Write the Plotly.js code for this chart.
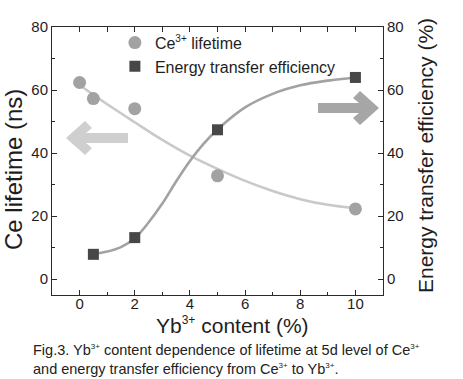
<!DOCTYPE html>
<html>
<head>
<meta charset="utf-8">
<script src="https://cdn.plot.ly/plotly-3.0.1.min.js"></script>
<style>html,body{margin:0;padding:0;background:#fff;}#chart{width:463px;height:379px;}</style>
</head>
<body>
<div id="chart"></div>
<script>
// ---- data ----
const ceX = [0, 0.5, 2, 5, 10];
const ceLifetime = [62.4, 57.3, 54.1, 32.8, 22.3];
const etX = [0.5, 2, 5, 10];
const etEfficiency = [7.9, 13.2, 47.4, 64.0];
// fitted curves
const ceFitX = [0, 0.5, 1, 2, 3, 4, 5, 6, 7, 8, 9, 10];
const ceFitY = [61.6, 58.5, 55.5, 49.8, 44.2, 39.2, 35.0, 31.2, 28.0, 25.4, 23.6, 22.5];
const etFitX = [0.5, 1, 1.5, 2, 2.5, 3, 3.5, 4, 4.5, 5, 6, 7, 8, 9, 10];
const etFitY = [8.0, 8.8, 10.2, 13.0, 18.0, 24.0, 31.0, 37.5, 43.0, 47.5, 54.5, 58.8, 61.5, 63.0, 64.0];
const xTickVals = [0, 2, 4, 6, 8, 10];
const yTickVals = [0, 20, 40, 60, 80];

// ---- geometry (styling) ----
const W = 463, H = 379;
const M = {l: 52, r: 80, t: 27, b: 84};
const XR = [-1, 11], YR = [-5, 80];
const pw = W - M.l - M.r, ph = H - M.t - M.b;
function px2x(px){ return XR[0] + (px - M.l) / pw * (XR[1] - XR[0]); }
function py2y(py){ return YR[1] - (py - M.t) / ph * (YR[1] - YR[0]); }
function poly(pts){
  return 'M ' + pts.map(p => px2x(p[0]).toFixed(4) + ',' + py2y(p[1]).toFixed(4)).join(' L ') + ' Z';
}
const leftArrow = [[66,138],[85,121],[92,128],[86,133],[128,133],[128,143],[86,143],[92,148],[85,155]];
const rightArrow = [[379,108],[360,91],[353,98],[359,103],[318,103],[318,113],[359,113],[353,118],[360,125]];

const FONT = 'Liberation Sans, Arial, sans-serif';
const TXT = '#1e1e1e';
function sup(t, s){ return '<sup><span style="font-size:' + s + 'px">' + t + '</span></sup>'; }

const traces = [
  {x: ceFitX, y: ceFitY, mode: 'lines', line: {color: '#c9c9c9', width: 2.6, shape: 'spline'}, showlegend: false, hoverinfo: 'skip'},
  {x: etFitX, y: etFitY, mode: 'lines', yaxis: 'y2', line: {color: '#a2a2a2', width: 2.6, shape: 'spline'}, showlegend: false, hoverinfo: 'skip'},
  {x: ceX, y: ceLifetime, mode: 'markers', name: 'Ce' + sup('3+', 10) + ' lifetime',
   marker: {symbol: 'circle', size: 13, color: '#a2a2a2'}},
  {x: etX, y: etEfficiency, mode: 'markers', yaxis: 'y2', name: 'Energy transfer efficiency',
   marker: {symbol: 'square', size: 11, color: '#474747'}},
  {x: [], y: [], xaxis: 'x2', showlegend: false, hoverinfo: 'skip'}
];

const axisCommon = {
  showgrid: false, zeroline: false, showline: true, linecolor: '#2a2a2a', linewidth: 1,
  ticks: 'inside', ticklen: 5, tickcolor: '#2a2a2a', tickwidth: 1,
  tickfont: {family: FONT, size: 15, color: TXT}
};

const layout = {
  width: W, height: H,
  margin: M,
  paper_bgcolor: '#fff', plot_bgcolor: '#fff',
  font: {family: FONT, color: TXT},
  showlegend: true,
  legend: {x: 0.19, y: 1.005, xanchor: 'left', yanchor: 'top', bgcolor: 'rgba(0,0,0,0)',
           font: {family: FONT, size: 16, color: TXT}, tracegroupgap: 0},
  xaxis: Object.assign({}, axisCommon, {range: XR, tickvals: xTickVals, ticktext: xTickVals.map(String),
          ticklabelstandoff: -5,
          minor: {dtick: 1, tick0: 0, ticks: 'inside', ticklen: 3, tickcolor: '#2a2a2a'}}),
  xaxis2: Object.assign({}, axisCommon, {range: XR, overlaying: 'x', side: 'top', anchor: 'y', dtick: 1, tick0: 0,
          showticklabels: false}),
  yaxis: Object.assign({}, axisCommon, {range: YR, tickvals: yTickVals, ticktext: yTickVals.map(String),
          minor: {dtick: 10, tick0: 0, ticks: 'inside', ticklen: 3, tickcolor: '#2a2a2a'}}),
  yaxis2: Object.assign({}, axisCommon, {range: YR, overlaying: 'y', side: 'right', anchor: 'x',
          tickvals: yTickVals, ticktext: yTickVals.map(String),
          minor: {dtick: 10, tick0: 0, ticks: 'inside', ticklen: 3, tickcolor: '#2a2a2a'}}),
  shapes: [
    {type: 'path', xref: 'x', yref: 'y', path: poly(leftArrow), fillcolor: '#cfcfcf', line: {width: 0}, layer: 'below'},
    {type: 'path', xref: 'x', yref: 'y', path: poly(rightArrow), fillcolor: '#a6a6a6', line: {width: 0}, layer: 'below'}
  ],
  annotations: [
    {text: 'Yb' + sup('3+', 12) + ' content (%)', xref: 'paper', yref: 'paper', x: (232 - M.l) / pw, y: (H - M.b - 325) / ph,
     xanchor: 'center', yanchor: 'middle', showarrow: false, font: {family: FONT, size: 21, color: TXT}},
    {text: 'Ce lifetime (ns)', xref: 'paper', yref: 'paper', x: (14 - M.l) / pw, y: (H - M.b - 170) / ph,
     textangle: -90, xanchor: 'center', yanchor: 'middle', showarrow: false, font: {family: FONT, size: 24, color: TXT}},
    {text: 'Energy transfer efficiency (%)', xref: 'paper', yref: 'paper', x: (425 - M.l) / pw, y: (H - M.b - 156) / ph,
     textangle: -90, xanchor: 'center', yanchor: 'middle', showarrow: false, font: {family: FONT, size: 21, color: TXT}},
    {text: 'Fig.3. Yb' + sup('3+', 8) + ' content dependence of lifetime at 5d level of Ce' + sup('3+', 8) +
           '<br>and energy transfer efficiency from Ce' + sup('3+', 8) + ' to Yb' + sup('3+', 8) + '.',
     xref: 'paper', yref: 'paper', x: (31 - M.l) / pw, y: (H - M.b - 359.5) / ph, align: 'left',
     xanchor: 'left', yanchor: 'middle', showarrow: false, font: {family: FONT, size: 14.5, color: '#222'}}
  ]
};

Plotly.newPlot('chart', traces, layout, {displayModeBar: false, staticPlot: true});
</script>
</body>
</html>
